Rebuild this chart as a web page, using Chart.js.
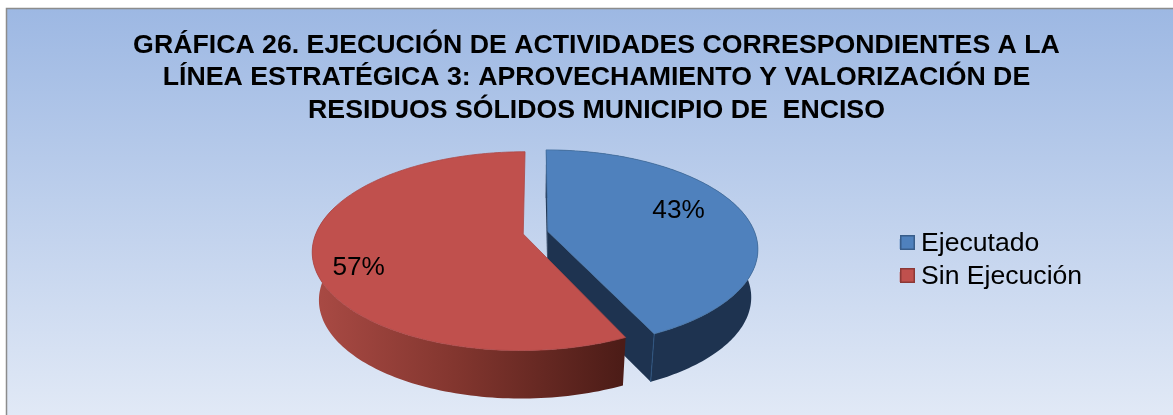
<!DOCTYPE html>
<html><head><meta charset="utf-8">
<style>html,body{margin:0;padding:0;background:#fff}canvas{display:block}</style>
<script src="https://cdn.jsdelivr.net/npm/chart.js@4"></script>
</head><body><canvas id="c" width="1173" height="415"></canvas>
<script>
const categories = ['Ejecutado', 'Sin Ejecución'];
const values = [43, 57];
const titleLines = [
  'GRÁFICA 26. EJECUCIÓN DE ACTIVIDADES CORRESPONDIENTES A LA',
  'LÍNEA ESTRATÉGICA 3: APROVECHAMIENTO Y VALORIZACIÓN DE',
  'RESIDUOS SÓLIDOS MUNICIPIO DE  ENCISO'
];
const faceColors = ['#4F81BD', '#C0504D'];
const swatchBorders = ['#385D8A', '#8C3836'];
const labelSpots = [[0.66, -0.23], [-0.745, 0.33]];
const FONT = '"Liberation Sans", Arial, sans-serif';
const view = {A: 207, B: 96, p: 0.172, depth: 48, shrink: 0.97};
const legendSpot = {left: 893.3, top: 224.3, swatchX: 900.75, swatchY: 235.75, step: 33};

const scene = {
  id: 'scene',
  beforeDraw(chart) {
    const ctx = chart.ctx;
    const g = ctx.createLinearGradient(0, 9, 0, 415);
    g.addColorStop(0, '#9DB8E3');
    g.addColorStop(1, '#E1E9F6');
    ctx.save();
    ctx.fillStyle = g;
    ctx.fillRect(7, 9, 1173, 415);
    ctx.strokeStyle = '#8C8C8C';
    ctx.lineWidth = 1.5;
    ctx.beginPath();
    ctx.moveTo(6.5, 420); ctx.lineTo(6.5, 8.5); ctx.lineTo(1180, 8.5);
    ctx.stroke();
    ctx.restore();
  },
  afterLayout(chart) {
    chart.titleBlock.left = 20;
    chart.titleBlock.right = 1173;
    chart.legend.left = legendSpot.left;
    chart.legend.top = legendSpot.top;
  },
  beforeDatasetsDraw(chart) {
    const ctx = chart.ctx;
    const arcs = chart.getDatasetMeta(0).data;
    const {A, B, p, depth, shrink} = view;
    const project = (arc, u, v, low) => {
      const s = 1 / (1 - p * v);
      return low
        ? [arc.x + shrink * A * u * s, arc.y + B * v * s + depth]
        : [arc.x + A * u * s, arc.y + B * v * s];
    };
    const shift = arc => {
      const mid = (arc.startAngle + arc.endAngle) / 2;
      const e = arc.options.offset / arc.outerRadius;
      return [Math.cos(mid) * e, Math.sin(mid) * e];
    };
    const rim = (arc, a, low) => {
      const [ox, oy] = shift(arc);
      return project(arc, ox + Math.cos(a), oy + Math.sin(a), low);
    };
    const apex = (arc, low) => {
      const [ox, oy] = shift(arc);
      return project(arc, ox, oy, low);
    };
    const angles = (arc) => {
      const out = [], n = 160;
      for (let i = 0; i <= n; i++) out.push(arc.startAngle + (arc.endAngle - arc.startAngle) * i / n);
      return out;
    };
    const poly = (pts, fill, stroke, lw) => {
      ctx.beginPath();
      pts.forEach((q, i) => i ? ctx.lineTo(q[0], q[1]) : ctx.moveTo(q[0], q[1]));
      ctx.closePath();
      ctx.fillStyle = fill;
      ctx.fill();
      if (stroke) { ctx.strokeStyle = stroke; ctx.lineWidth = lw; ctx.stroke(); }
    };
    const wall = (arc, fill, frontOnly) => {
      const as = angles(arc).filter(a => !frontOnly || Math.sin(a) > -0.3);
      poly(as.map(a => rim(arc, a, false)).concat(as.slice().reverse().map(a => rim(arc, a, true))), fill);
    };
    const cut = (arc, a, fill) => poly([apex(arc, false), rim(arc, a, false), rim(arc, a, true), apex(arc, true)], fill);
    const face = (arc, fill, edge) => {
      poly([apex(arc, false)].concat(angles(arc).map(a => rim(arc, a, false))), fill, edge, 0.8);
    };

    const [blue, red] = arcs;
    const dark = '#1E3350';
    cut(blue, blue.startAngle, dark);
    cut(blue, blue.endAngle, dark);
    wall(blue, dark, false);
    // light seam on the blue outer corner
    const c1 = rim(blue, blue.endAngle, false), c2 = rim(blue, blue.endAngle, true);
    ctx.strokeStyle = '#2F5580'; ctx.lineWidth = 1;
    ctx.beginPath(); ctx.moveTo(c1[0], c1[1]); ctx.lineTo(c2[0], c2[1]); ctx.stroke();
    face(blue, blue.options.backgroundColor, '#44709F');

    const g = ctx.createLinearGradient(316, 0, 622, 0);
    g.addColorStop(0, '#A94A44');
    g.addColorStop(0.45, '#83362F');
    g.addColorStop(1, '#4C1C17');
    wall(red, g, true);
    face(red, red.options.backgroundColor, '#AD4846');

    ctx.fillStyle = '#000';
    ctx.font = '26.2px ' + FONT;
    ctx.textAlign = 'center';
    ctx.textBaseline = 'middle';
    arcs.forEach((arc, i) => {
      const [ox, oy] = shift(arc);
      const q = project(arc, ox + labelSpots[i][0], oy + labelSpots[i][1], false);
      ctx.fillText(values[i] + '%', q[0], q[1]);
    });
    return false;
  },
  afterDraw(chart) {
    const ctx = chart.ctx;
    categories.forEach((_, i) => {
      const y = legendSpot.swatchY + i * legendSpot.step;
      ctx.fillStyle = faceColors[i];
      ctx.strokeStyle = swatchBorders[i];
      ctx.lineWidth = 1.5;
      ctx.fillRect(legendSpot.swatchX, y, 13.5, 13.5);
      ctx.strokeRect(legendSpot.swatchX, y, 13.5, 13.5);
    });
  }
};

new Chart(document.getElementById('c'), {
  type: 'pie',
  data: {
    labels: categories,
    datasets: [{data: values, backgroundColor: faceColors, borderWidth: 0, offset: 6.05}]
  },
  plugins: [scene],
  options: {
    responsive: false,
    animation: false,
    devicePixelRatio: 1,
    layout: {padding: {left: 97, right: 0, top: 0, bottom: 80}},
    plugins: {
      tooltip: {enabled: false},
      title: {
        display: true,
        text: titleLines,
        color: '#000',
        font: {family: FONT, size: 26.7, weight: 'bold', lineHeight: 1.217},
        padding: {top: 29, bottom: 4}
      },
      legend: {
        position: 'right',
        align: 'start',
        labels: {
          color: '#000',
          font: {family: FONT, size: 26.6},
          boxWidth: 8,
          boxHeight: 10,
          padding: 6.4
        }
      }
    }
  }
});
</script></body></html>
